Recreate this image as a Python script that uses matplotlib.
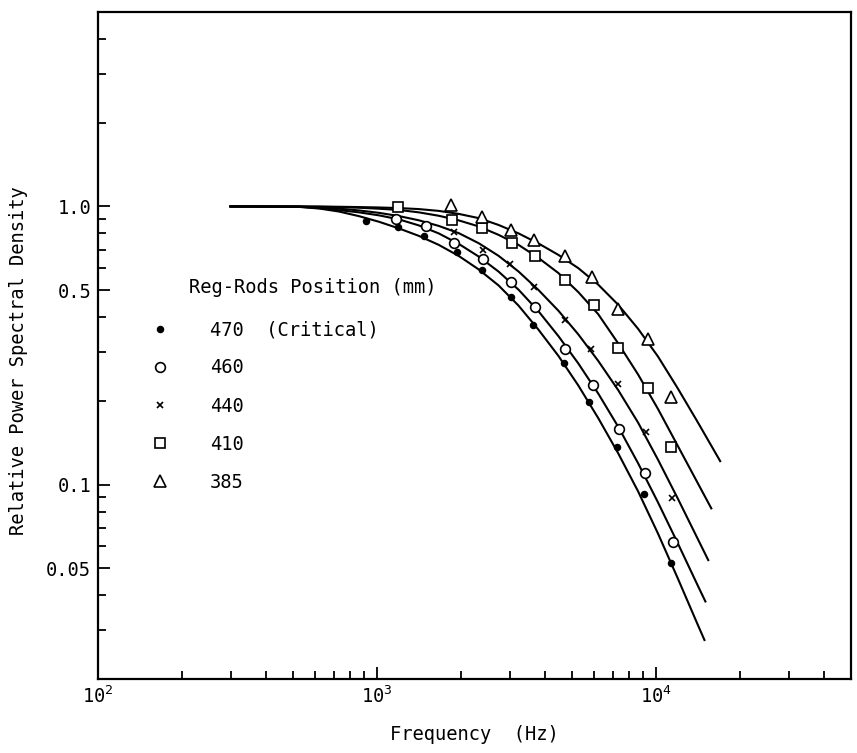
import matplotlib
matplotlib.use("Agg")
import matplotlib.pyplot as plt
from matplotlib.ticker import FixedLocator, FixedFormatter, NullFormatter

plt.rcParams['font.family'] = ['DejaVu Sans Mono']
plt.rcParams['mathtext.fontset'] = 'custom'
plt.rcParams['mathtext.rm'] = 'DejaVu Sans Mono'
plt.rcParams['mathtext.it'] = 'DejaVu Sans Mono'

# ---- data ----
labels = ["470  (Critical)", "460", "440", "410", "385"]

# measured points
f_470 = [913, 1189, 1472, 1931, 2371, 3012, 3637, 4692, 5765, 7256, 9061, 11310]
v_470 = [0.883, 0.840, 0.786, 0.688, 0.592, 0.473, 0.375, 0.273, 0.198, 0.136, 0.0928, 0.0523]
f_460 = [1169, 1496, 1884, 2393, 3012, 3697, 4733, 5957, 7372, 9136, 11490]
v_460 = [0.898, 0.847, 0.741, 0.649, 0.536, 0.436, 0.307, 0.228, 0.159, 0.110, 0.0622]
f_440 = [1884, 2393, 2985, 3667, 4733, 5861, 7312, 9205, 11400]
v_440 = [0.806, 0.700, 0.623, 0.514, 0.391, 0.307, 0.230, 0.154, 0.0898]
f_410 = [1189, 1853, 2371, 3039, 3697, 4733, 6006, 7312, 9363, 11310]
v_410 = [0.992, 0.890, 0.833, 0.741, 0.665, 0.545, 0.443, 0.310, 0.222, 0.136]
f_385 = [1838, 2371, 3012, 3667, 4733, 5905, 7312, 9363, 11310]
v_385 = [1.008, 0.913, 0.826, 0.760, 0.665, 0.559, 0.428, 0.334, 0.206]

# fitted curves
curve_f = [296, 526, 621, 731, 862, 1017, 1198, 1412, 1665, 1963, 2314, 2727,
           3215, 3790, 4467, 5266, 6206, 7316, 8624, 10165, 11983, 14125]
curve_470 = [1.0, 0.9959, 0.9827, 0.9585, 0.9226, 0.8806, 0.8336, 0.7837, 0.7274, 0.6638, 0.5938,
             0.5200, 0.4401, 0.3606, 0.2904, 0.2272, 0.1735, 0.1297, 0.0946, 0.0667, 0.0459, 0.0313]
curve_460 = [1.0, 0.9975, 0.9860, 0.9697, 0.9521, 0.9287, 0.8984, 0.8546, 0.7997, 0.7334, 0.6606,
             0.5832, 0.5021, 0.4201, 0.3420, 0.2727, 0.2126, 0.1616, 0.1194, 0.0863, 0.0614, 0.0433]
curve_440 = [1.0, 0.9983, 0.9917, 0.9819, 0.9673, 0.9482, 0.9233, 0.8916, 0.8510, 0.8017, 0.7377,
             0.6644, 0.5836, 0.5008, 0.4220, 0.3468, 0.2785, 0.2188, 0.1671, 0.1229, 0.0889, 0.0637]
curve_410 = [1.0, 0.9992, 0.9975, 0.9942, 0.9893, 0.9811, 0.9713, 0.9521, 0.9256, 0.8909, 0.8475,
             0.7904, 0.7274, 0.6530, 0.5763, 0.4921, 0.4099, 0.3221, 0.2489, 0.1870, 0.1375, 0.1011]
curve_385 = [1.0, 0.9996, 0.9988, 0.9971, 0.9946, 0.9913, 0.9864, 0.9782, 0.9637, 0.9400, 0.9078,
             0.8578, 0.8000, 0.7362, 0.6696, 0.6000, 0.5235, 0.4434, 0.3632, 0.2887, 0.2213, 0.1674]
tail_470_f, tail_470_v = [14970], [0.0274]
tail_460_f, tail_460_v = [15090], [0.0377]
tail_440_f, tail_440_v = [15450], [0.0531]
tail_410_f, tail_410_v = [15850], [0.0815]
tail_385_f, tail_385_v = [16652, 17060], [0.1257, 0.1205]

x_major = [1e2, 1e3, 1e4]
x_major_labels = [r"$\mathregular{10^{2}}$", r"$\mathregular{10^{3}}$", r"$\mathregular{10^{4}}$"]
y_major = [0.05, 0.1, 0.5, 1.0]
y_major_labels = ["0.05", "0.1", "0.5", "1.0"]

# ---- figure ----
fig = plt.figure(figsize=(8.57, 7.53), dpi=100)
ax = fig.add_axes([98/857, 1-679/753, (851-98)/857, (679-12)/753])
ax.set_xscale('log')
ax.set_yscale('log')
ax.set_xlim(100, 5e4)
ax.set_ylim(0.02, 5.0)

for c, tf, tv in [(curve_470, tail_470_f, tail_470_v), (curve_460, tail_460_f, tail_460_v),
                  (curve_440, tail_440_f, tail_440_v), (curve_410, tail_410_f, tail_410_v),
                  (curve_385, tail_385_f, tail_385_v)]:
    ax.plot(curve_f + tf, c + tv, color='black', lw=1.5, solid_capstyle='butt',
            solid_joinstyle='round')

mk = dict(color='black', linestyle='none')
h1, = ax.plot(f_470, v_470, marker='o', ms=4.4, mfc='black', **mk)
h2, = ax.plot(f_460, v_460, marker='o', ms=7, mfc='white', mew=1.2, **mk)
h3, = ax.plot(f_440, v_440, marker='x', ms=4.5, mew=1.2, **mk)
h4, = ax.plot(f_410, v_410, marker='s', ms=7.5, mfc='white', mew=1.2, **mk)
h5, = ax.plot(f_385, v_385, marker='^', ms=8, mfc='white', mew=1.2, **mk)

leg = ax.legend([h1, h2, h3, h4, h5], labels, title="Reg-Rods Position (mm)",
                loc='upper left', bbox_to_anchor=(0.058, 0.609), frameon=False,
                fontsize=13.5, title_fontsize=13.5, handlelength=1.0,
                handletextpad=2.13, labelspacing=1.02, borderpad=0,
                alignment='left')
leg.get_title().set_position((38, 4))

# ticks
ax.xaxis.set_major_locator(FixedLocator(x_major))
ax.xaxis.set_major_formatter(FixedFormatter(x_major_labels))
ax.xaxis.set_minor_locator(FixedLocator([m * d for d in (1e2, 1e3, 1e4) for m in range(2, 10) if m * d < 5e4]))
ax.xaxis.set_minor_formatter(NullFormatter())
ax.yaxis.set_major_locator(FixedLocator(y_major))
ax.yaxis.set_major_formatter(FixedFormatter(y_major_labels))
ax.yaxis.set_minor_locator(FixedLocator([0.03, 0.04, 0.06, 0.07, 0.08, 0.09, 0.2, 0.3, 0.4,
                                         0.6, 0.7, 0.8, 0.9, 2, 3, 4]))
ax.yaxis.set_minor_formatter(NullFormatter())
ax.tick_params(which='both', direction='in', top=False, right=False, width=1.3, labelsize=13.5, pad=5)
ax.tick_params(which='major', length=8.5)
ax.tick_params(which='minor', length=6)

for s in ax.spines.values():
    s.set_linewidth(1.6)

ax.set_xlabel("Frequency  (Hz)", fontsize=13.5)
ax.set_ylabel("Relative Power Spectral Density", fontsize=13.5)
ax.xaxis.set_label_coords(0.5, -0.0695)
ax.yaxis.set_label_coords(-0.093, 0.478)

fig.savefig("out.png", dpi=100)
